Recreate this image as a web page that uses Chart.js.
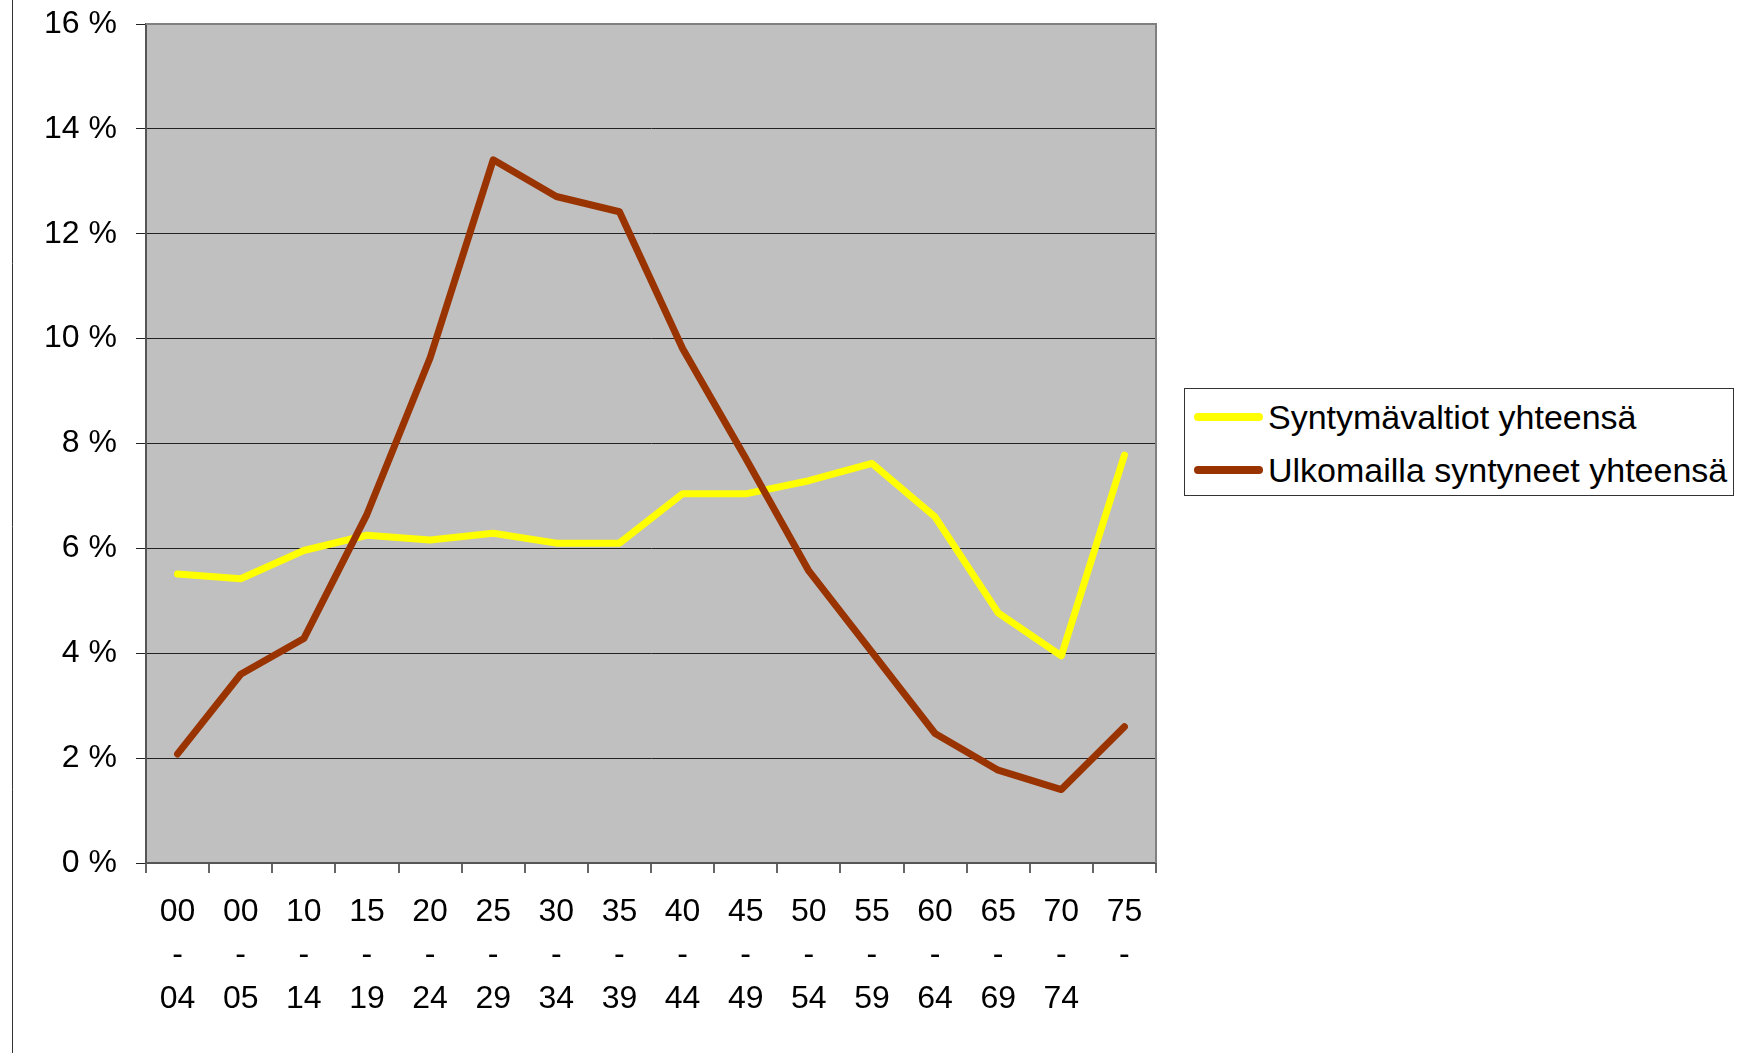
<!DOCTYPE html>
<html>
<head>
<meta charset="utf-8">
<script src="https://cdn.jsdelivr.net/npm/chart.js@4"></script>
<style>
  body { margin: 0; background: #fff; }
  #wrap { position: relative; width: 1744px; height: 1053px; }
  #legend {
    position: absolute; left: 1184px; top: 388px; width: 548px; height: 106px;
    border: 1px solid #333; background: #fff;
    font-family: "Liberation Sans", Arial, sans-serif; font-size: 34px; color: #000;
  }
  #legend .row { position: absolute; left: 9px; height: 40px; display: flex; align-items: center; white-space: nowrap; }
  #legend .swatch { width: 69px; height: 8px; border-radius: 4px; margin-right: 5px; }
</style>
</head>
<body>
<div id="wrap">
  <canvas id="chart"></canvas>
  <div id="legend"></div>
</div>
<script>
const ageGroups = ["00-04", "00-05", "10-14", "15-19", "20-24", "25-29", "30-34", "35-39",
  "40-44", "45-49", "50-54", "55-59", "60-64", "65-69", "70-74", "75-"];
const syntymavaltiot = [5.51, 5.42, 5.96, 6.25, 6.16, 6.29, 6.10, 6.10,
  7.04, 7.04, 7.29, 7.62, 6.60, 4.77, 3.95, 7.78];
const ulkomailla = [2.08, 3.60, 4.28, 6.65, 9.63, 13.41, 12.71, 12.42,
  9.81, 7.72, 5.57, 4.02, 2.47, 1.77, 1.40, 2.60];
const yTicks = [0, 2, 4, 6, 8, 10, 12, 14, 16];

const font = "'Liberation Sans', Arial, sans-serif";

const labels = ageGroups.map(g => {
  const [a, b] = g.split("-");
  return b ? [a, "-", b] : [a, "-"];
});

const frame = {
  id: "frame",
  beforeDraw(chart) {
    const { ctx, chartArea: a } = chart;
    ctx.save();
    ctx.fillStyle = "#c0c0c0";
    ctx.fillRect(a.left, a.top, a.right - a.left, a.bottom - a.top);
    ctx.restore();
  },
  afterDraw(chart) {
    const { ctx, chartArea: a } = chart;
    ctx.save();
    ctx.strokeStyle = "#808080";
    ctx.lineWidth = 2;
    ctx.beginPath();
    ctx.moveTo(a.left, a.top);
    ctx.lineTo(a.right, a.top);
    ctx.lineTo(a.right, a.bottom);
    ctx.stroke();
    // outer frame edge at the left
    ctx.strokeStyle = "#333";
    ctx.lineWidth = 1;
    ctx.beginPath();
    ctx.moveTo(12.5, 0);
    ctx.lineTo(12.5, chart.height);
    ctx.stroke();
    ctx.restore();
  }
};

const datasets = [
  { label: "Syntymävaltiot yhteensä", data: syntymavaltiot, borderColor: "#ffff00", order: 1 },
  { label: "Ulkomailla syntyneet yhteensä", data: ulkomailla, borderColor: "#993300", order: 0 }
].map(d => Object.assign(d, {
  borderWidth: 7, pointRadius: 0, tension: 0, fill: false,
  borderCapStyle: "round", borderJoinStyle: "round"
}));

new Chart(document.getElementById("chart"), {
  type: "line",
  data: { labels, datasets },
  options: {
    responsive: true,
    maintainAspectRatio: false,
    animation: false,
    layout: { padding: { left: 0, top: 24, right: 588, bottom: 0 } },
    plugins: { legend: { display: false }, tooltip: { enabled: false } },
    scales: {
      x: {
        offset: true,
        grid: { offset: true, drawOnChartArea: false, drawTicks: true, tickLength: 10, color: "#666", lineWidth: 2 },
        border: { color: "#555", width: 2 },
        ticks: { color: "#000", font: { family: font, size: 32, lineHeight: 1.36 }, padding: 17, maxRotation: 0, autoSkip: false },
        afterFit: s => { s.height = 190; s.paddingLeft = 0; s.paddingRight = 0; }
      },
      y: {
        min: 0, max: 16,
        afterBuildTicks: s => { s.ticks = yTicks.map(v => ({ value: v })); },
        grid: { color: "#222", lineWidth: 1, tickLength: 10 },
        border: { color: "#555", width: 2 },
        ticks: { color: "#000", font: { family: font, size: 32 }, padding: 19, callback: v => v + " %" },
        afterFit: s => { s.width = 146; s.paddingTop = 0; s.paddingBottom = 0; }
      }
    }
  },
  plugins: [frame]
});

// legend box
const legend = document.getElementById("legend");
datasets.forEach((d, i) => {
  const row = document.createElement("div");
  row.className = "row";
  row.style.top = (8 + i * 53) + "px";
  const sw = document.createElement("span");
  sw.className = "swatch";
  sw.style.background = d.borderColor;
  const tx = document.createElement("span");
  tx.textContent = d.label;
  row.appendChild(sw);
  row.appendChild(tx);
  legend.appendChild(row);
});
</script>
</body>
</html>
